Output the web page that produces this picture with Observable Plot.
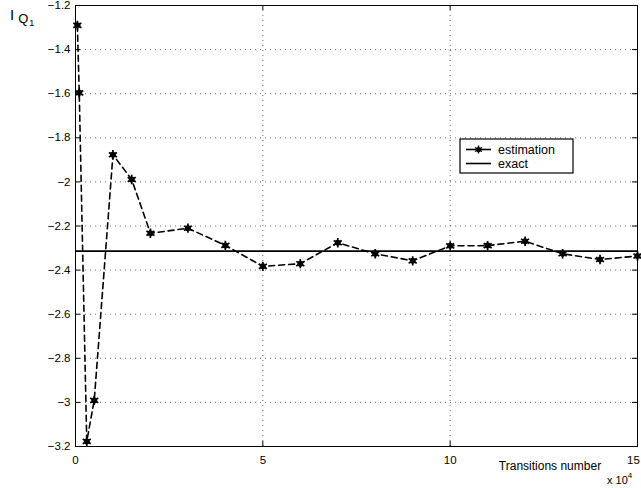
<!DOCTYPE html>
<html>
<head>
<meta charset="utf-8">
<script src="https://cdn.jsdelivr.net/npm/d3@7"></script>
<script src="https://cdn.jsdelivr.net/npm/@observablehq/plot@0.6"></script>
<style>
  html, body { margin: 0; padding: 0; background: #fff; }
  #chart { position: relative; width: 641px; height: 488px; }
  svg { font-family: "Liberation Sans", Arial, sans-serif; }
</style>
</head>
<body>
<div id="chart"></div>
<script>
// ---- data ----
const transitions = [500, 1000, 3000, 5000, 10000, 15000, 20000, 30000, 40000, 50000, 60000, 70000, 80000, 90000, 100000, 110000, 120000, 130000, 140000, 150000];
const estimation  = [-1.29, -1.596, -3.177, -2.991, -1.877, -1.989, -2.233, -2.210, -2.288, -2.383, -2.371, -2.276, -2.326, -2.358, -2.290, -2.289, -2.269, -2.326, -2.352, -2.336];
const exactValue = -2.314;
const xTicks = [0, 50000, 100000, 150000];
const yTicks = [-3.2, -3.0, -2.8, -2.6, -2.4, -2.2, -2.0, -1.8, -1.6, -1.4, -1.2];
const seriesNames = ["estimation", "exact"];

const data = transitions.map((t, i) => ({t, v: estimation[i]}));

const W = 641, H = 488;
const mL = 75, mR = 4, mT = 5, mB = 42;
const plotW = W - mL - mR, plotH = H - mT - mB;
const tickLen = 5;

const fmtY = d => (Math.abs(d - Math.round(d)) < 1e-9 ? d3.format("d")(d) : d3.format(".1f")(d)).replace("-", "\u2212");
const fmtX = d => String(d / 10000);

const chart = Plot.plot({
  width: W, height: H,
  marginLeft: mL, marginRight: mR, marginTop: mT, marginBottom: mB,
  style: {fontFamily: "Liberation Sans, Arial, sans-serif", fontSize: "11px", background: "#fff", color: "#000"},
  x: {domain: [0, 150000], ticks: xTicks, label: null},
  y: {domain: [-3.2, -1.2], ticks: yTicks, label: null},
  marks: [
    // dotted grid
    Plot.ruleX(xTicks.slice(1, -1), {x: d => d, stroke: "#444", strokeWidth: 0.8, strokeDasharray: "1,4"}),
    Plot.ruleY(yTicks.slice(1, -1), {y: d => d, stroke: "#444", strokeWidth: 0.8, strokeDasharray: "1,4"}),
    // inward ticks
    Plot.ruleX(xTicks, {x: d => d, insetTop: plotH - tickLen, stroke: "#000"}),
    Plot.ruleX(xTicks, {x: d => d, insetBottom: plotH - tickLen, stroke: "#000"}),
    Plot.ruleY(yTicks, {y: d => d, insetRight: plotW - tickLen, stroke: "#000"}),
    Plot.ruleY(yTicks, {y: d => d, insetLeft: plotW - tickLen, stroke: "#000"}),
    // exact
    Plot.ruleY([exactValue], {y: d => d, stroke: "#000", strokeWidth: 1.6}),
    // estimation
    Plot.line(data, {x: "t", y: "v", stroke: "#000", strokeWidth: 1.6, strokeDasharray: "6,4"}),
    Plot.dot(data, {x: "t", y: "v", r: 3, fill: "#000", stroke: "none"}),
    Plot.dot(data, {x: "t", y: "v", symbol: "asterisk", r: 4.4, stroke: "#000", strokeWidth: 1.7}),
    Plot.frame({stroke: "#000", strokeWidth: 1}),
    Plot.axisX(xTicks.slice(0, -1), {tickSize: 0, tickPadding: 9, tickFormat: fmtX, fontSize: 11.5, label: null}),
    Plot.axisX(xTicks.slice(-1), {tickSize: 0, tickPadding: 9, tickFormat: fmtX, fontSize: 11.5, dx: -4, label: null}),
    Plot.axisY(yTicks, {tickSize: 0, tickPadding: 5, tickFormat: fmtY, fontSize: 11.5, label: null})
  ]
});
document.getElementById("chart").appendChild(chart);

const svg = d3.select(chart);
// y label I_{Q_1}
const yl = svg.append("text").attr("x", 10).attr("y", 20).attr("text-anchor", "start")
  .style("font-size", "15px").attr("fill", "#000");
yl.append("tspan").text("I");
yl.append("tspan").attr("dx", 4).attr("dy", 3).style("font-size", "13px").text("Q");
yl.append("tspan").attr("dx", 1).attr("dy", 3).style("font-size", "9px").text("1");

// x label
svg.append("text").attr("x", 550).attr("y", 470).attr("text-anchor", "middle").style("font-size", "12px").attr("fill", "#000").text("Transitions number");
const xm = svg.append("text").attr("x", 607).attr("y", 484).attr("text-anchor", "start").style("font-size", "11px").attr("fill", "#000");
xm.append("tspan").text("x 10");
xm.append("tspan").attr("dy", -6).style("font-size", "8px").text("4");

// legend
const lg = svg.append("g").attr("transform", "translate(460,139)");
lg.append("rect").attr("width", 113).attr("height", 34).attr("fill", "#fff").attr("stroke", "#000").attr("stroke-width", 1.2);
lg.append("line").attr("x1", 6).attr("x2", 31).attr("y1", 10.5).attr("y2", 10.5).attr("stroke", "#000").attr("stroke-width", 1.6);
lg.append("circle").attr("cx", 18.5).attr("cy", 10.5).attr("r", 2.6).attr("fill", "#000");
lg.append("path").attr("d", d3.symbol(d3.symbolAsterisk, 45)()).attr("transform", "translate(18.5,10.5)").attr("fill", "none").attr("stroke", "#000").attr("stroke-width", 1.4);
lg.append("line").attr("x1", 6).attr("x2", 31).attr("y1", 24.5).attr("y2", 24.5).attr("stroke", "#000").attr("stroke-width", 1.6);
lg.append("text").attr("x", 38).attr("y", 14.5).attr("text-anchor", "start").style("font-size", "12.5px").attr("fill", "#000").text(seriesNames[0]);
lg.append("text").attr("x", 38).attr("y", 28.5).attr("text-anchor", "start").style("font-size", "12.5px").attr("fill", "#000").text(seriesNames[1]);
</script>
</body>
</html>
